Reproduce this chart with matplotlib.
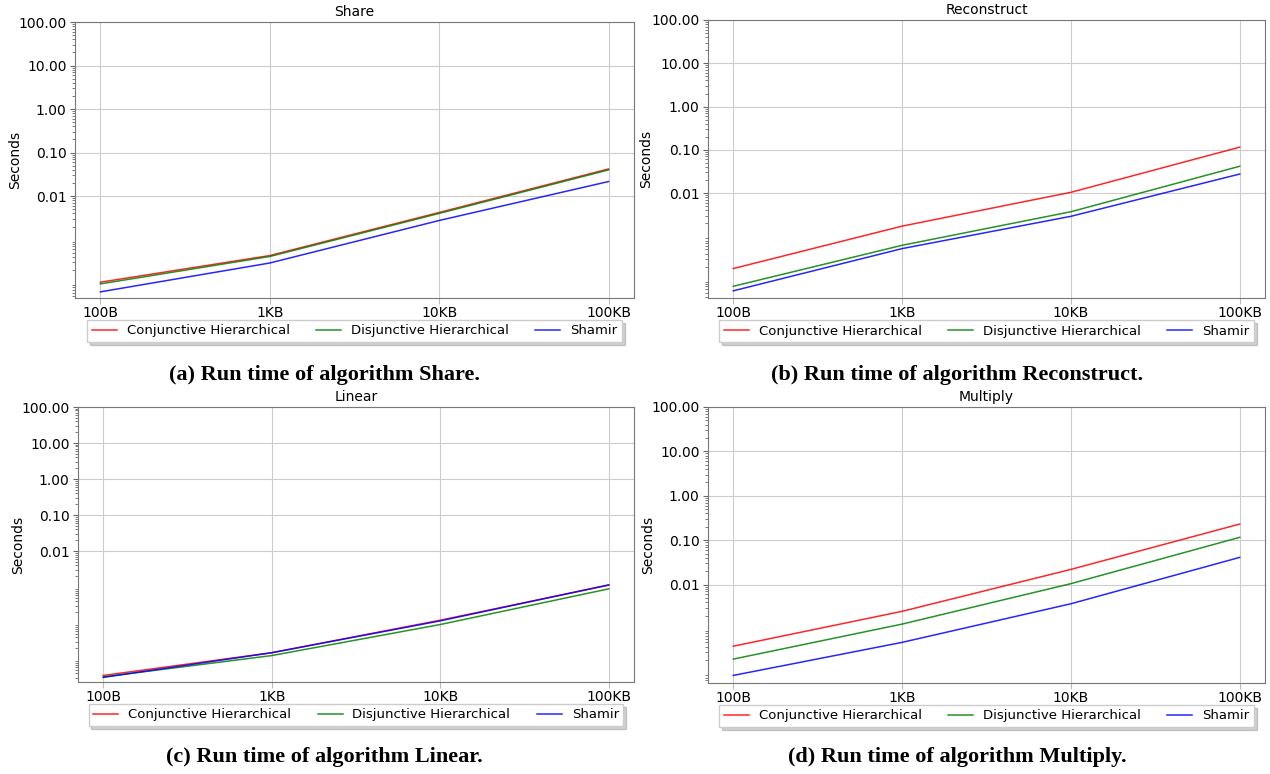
import numpy as np
import matplotlib
matplotlib.use('Agg')
import matplotlib.pyplot as plt
from matplotlib.ticker import FormatStrFormatter

sizes = ['100B', '1KB', '10KB', '100KB']
series_names = ['Conjunctive Hierarchical', 'Disjunctive Hierarchical', 'Shamir']
series_colors = ['red', 'green', 'blue']

# run times in seconds
share_conj = [1.05e-4, 4.3e-4, 4.2e-3, 0.042]
share_disj = [9.6e-5, 4.1e-4, 4.0e-3, 0.040]
share_shamir = [6.3e-5, 2.9e-4, 2.75e-3, 0.0216]

recon_conj = [1.8e-4, 1.72e-3, 0.0104, 0.115]
recon_disj = [7.0e-5, 6.2e-4, 3.7e-3, 0.0416]
recon_shamir = [5.5e-5, 5.2e-4, 2.9e-3, 0.0275]

linear_conj = [3.5e-6, 1.5e-5, 1.2e-4, 1.13e-3]
linear_disj = [3.2e-6, 1.25e-5, 9.1e-5, 8.9e-4]
linear_shamir = [3.1e-6, 1.5e-5, 1.15e-4, 1.15e-3]

mult_conj = [4.1e-4, 2.5e-3, 0.022, 0.231]
mult_disj = [2.1e-4, 1.29e-3, 0.0105, 0.116]
mult_shamir = [9.0e-5, 5.0e-4, 3.7e-3, 0.041]

titles = ['Share', 'Reconstruct', 'Linear', 'Multiply']
captions = ['(a) Run time of algorithm Share.',
            '(b) Run time of algorithm Reconstruct.',
            '(c) Run time of algorithm Linear.',
            '(d) Run time of algorithm Multiply.']
ytick_vals = [0.01, 0.1, 1, 10, 100]

panels = [
    [share_conj, share_disj, share_shamir],
    [recon_conj, recon_disj, recon_shamir],
    [linear_conj, linear_disj, linear_shamir],
    [mult_conj, mult_disj, mult_shamir],
]

# axes boxes in pixels: left, right, top, bottom
boxes = [(75, 634, 22, 298), (708, 1265, 20, 298),
         (78, 634, 407, 682), (708, 1265, 407, 683)]
cap_pos = [(324, 375), (957, 375), (324, 757), (957, 757)]
ylabel_x = [22, 653, 25, 655]

W, H = 1270, 774
fig = plt.figure(figsize=(W / 100, H / 100), dpi=100)

x = np.arange(len(sizes))
for i in range(4):
    l, r, t, b = boxes[i]
    ax = fig.add_axes([l / W, 1 - b / H, (r - l) / W, (b - t) / H])
    for vals, name, c in zip(panels[i], series_names, series_colors):
        ax.plot(x, vals, color=c, alpha=0.85, linewidth=1.1, label=name)
    ax.set_yscale('log')
    ax.set_yticks(ytick_vals)
    ax.yaxis.set_major_formatter(FormatStrFormatter('%.2f'))
    ax.set_xticks(x)
    ax.set_xticklabels(sizes)
    ax.tick_params(axis='both', labelsize=10)
    ax.tick_params(axis='x', length=4, color='#bbbbbb', pad=1.5)
    ax.tick_params(axis='y', which='both', color='#666666', pad=2.5)
    ax.grid(True, color='#cccccc', linewidth=0.8)
    for s in ax.spines.values():
        s.set_color('#777777')
    ax.set_title(titles[i], fontsize=10, pad=4)
    ax.set_ylabel('Seconds', fontsize=10)
    ax.yaxis.set_label_coords((ylabel_x[i] - l) / (r - l), 0.5)
    ax.legend(loc='upper center', bbox_to_anchor=(0.5, -0.055), ncol=3,
              fontsize=9.5, shadow={'alpha': 0.25}, fancybox=False,
              columnspacing=2.0, handlelength=1.9, handletextpad=0.75,
              borderpad=0.35)
    cx, cy = cap_pos[i]
    fig.text(cx / W, 1 - cy / H, captions[i], ha='center', va='center',
             fontsize=16, fontweight='bold', family='Liberation Serif')

fig.savefig('out.png', dpi=100)
